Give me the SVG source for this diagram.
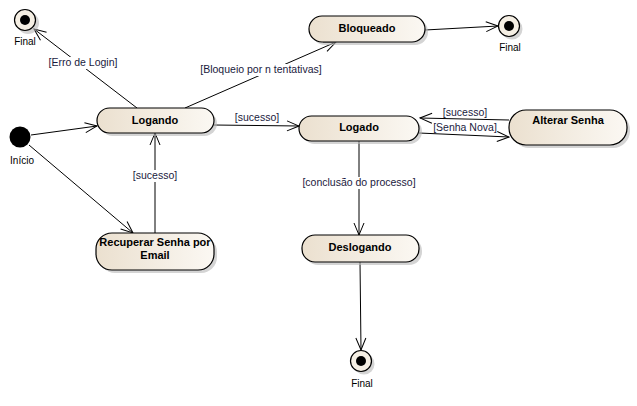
<svg xmlns="http://www.w3.org/2000/svg" width="637" height="406" viewBox="0 0 637 406">
<style>
.st{fill:url(#g);stroke:#000;stroke-width:1.2}
.sh{fill:#b8b8b8;opacity:0.6}
.nt{font-family:"Liberation Sans",Arial,sans-serif;font-size:11px;font-weight:bold;fill:#000;text-anchor:middle}
.lb{font-family:"Liberation Sans",Arial,sans-serif;font-size:10.5px;fill:#1a1a40;text-anchor:middle}
.ct{font-family:"Liberation Sans",Arial,sans-serif;font-size:10px;fill:#000;text-anchor:middle}
.ln{stroke:#000;stroke-width:1;fill:none;marker-end:url(#a)}
</style>
<defs>
<linearGradient id="g" x1="0" y1="0" x2="1" y2="0">
<stop offset="0" stop-color="#ebe0cf"/>
<stop offset="1" stop-color="#fbf8f3"/>
</linearGradient>
<marker id="a" markerWidth="14" markerHeight="12" refX="13" refY="6" orient="auto" markerUnits="userSpaceOnUse">
<path d="M1,1 L13,6 L1,11" fill="none" stroke="#000" stroke-width="1"/>
</marker>
</defs>
<rect width="637" height="406" fill="#fff"/>
<g id="connectors">
<line class="ln" x1="137" y1="108" x2="34" y2="29"/>
<line class="ln" x1="185" y1="108" x2="336" y2="42"/>
<line class="ln" x1="425" y1="30" x2="498" y2="26"/>
<line class="ln" x1="31" y1="135" x2="97" y2="126"/>
<line class="ln" x1="29" y1="145" x2="133" y2="233"/>
<line class="ln" x1="155" y1="233" x2="155" y2="133"/>
<line class="ln" x1="214" y1="125" x2="299" y2="126"/>
<line class="ln" x1="509" y1="120" x2="420" y2="118"/>
<line class="ln" x1="419" y1="133" x2="509" y2="137"/>
<line class="ln" x1="359" y1="141" x2="359" y2="235"/>
<line class="ln" x1="360" y1="262" x2="361" y2="350"/>
<rect x="46" y="57" width="76" height="12" fill="#fff"/>
<text class="lb" x="83" y="66">[Erro de Login]</text>
<rect x="197" y="64" width="128" height="12" fill="#fff"/>
<text class="lb" x="261" y="73">[Bloqueio por n tentativas]</text>
<rect x="133" y="170" width="44" height="12" fill="#fff"/>
<text class="lb" x="155" y="179">[sucesso]</text>
<text class="lb" x="257" y="121">[sucesso]</text>
<text class="lb" x="465" y="116">[sucesso]</text>
<text class="lb" x="465" y="131">[Senha Nova]</text>
<rect x="301" y="177" width="116" height="12" fill="#fff"/>
<text class="lb" x="359" y="186">[conclusão do processo]</text>
</g>
<g id="final1">
<circle class="sh" cx="28" cy="23" r="11"/>
<circle cx="25" cy="20" r="10.5" fill="#f5efe4" stroke="#000" stroke-width="1.2"/>
<circle cx="25" cy="20" r="5" fill="#000"/>
<text class="ct" x="25" y="45">Final</text>
</g>
<g id="inicio">
<circle cx="20" cy="137" r="10.5" fill="#000"/>
<text class="ct" x="22" y="164">Início</text>
</g>
<g id="logando">
<rect class="sh" x="100" y="111" width="117" height="25" rx="12.5"/>
<rect class="st" x="97" y="108" width="117" height="25" rx="12.5"/>
<text class="nt" x="155" y="124">Logando</text>
</g>
<g id="recuperar">
<rect class="sh" x="99" y="236" width="118" height="37" rx="16"/>
<rect class="st" x="96" y="233" width="118" height="37" rx="16"/>
<text class="nt" x="155" y="246">Recuperar Senha por</text>
<text class="nt" x="155" y="259">Email</text>
</g>
<g id="bloqueado">
<rect class="sh" x="312" y="19" width="116" height="26" rx="13"/>
<rect class="st" x="309" y="16" width="116" height="26" rx="13"/>
<text class="nt" x="367" y="32">Bloqueado</text>
</g>
<g id="final2">
<circle class="sh" cx="512" cy="29" r="10.5"/>
<circle cx="509" cy="26" r="10.5" fill="#f5efe4" stroke="#000" stroke-width="1.2"/>
<circle cx="509" cy="26" r="5" fill="#000"/>
<text class="ct" x="510" y="51">Final</text>
</g>
<g id="logado">
<rect class="sh" x="302" y="119" width="120" height="25" rx="12.5"/>
<rect class="st" x="299" y="116" width="120" height="25" rx="12.5"/>
<text class="nt" x="359" y="131">Logado</text>
</g>
<g id="alterar">
<rect class="sh" x="512" y="113" width="118" height="35" rx="17"/>
<rect class="st" x="509" y="110" width="118" height="35" rx="17"/>
<text class="nt" x="568" y="124">Alterar Senha</text>
</g>
<g id="deslogando">
<rect class="sh" x="305" y="238" width="117" height="27" rx="13"/>
<rect class="st" x="302" y="235" width="117" height="27" rx="13"/>
<text class="nt" x="360" y="251">Deslogando</text>
</g>
<g id="final3">
<circle class="sh" cx="364" cy="364" r="10.5"/>
<circle cx="361" cy="361" r="10.5" fill="#f5efe4" stroke="#000" stroke-width="1.2"/>
<circle cx="361" cy="361" r="5" fill="#000"/>
<text class="ct" x="362" y="387">Final</text>
</g>
</svg>
